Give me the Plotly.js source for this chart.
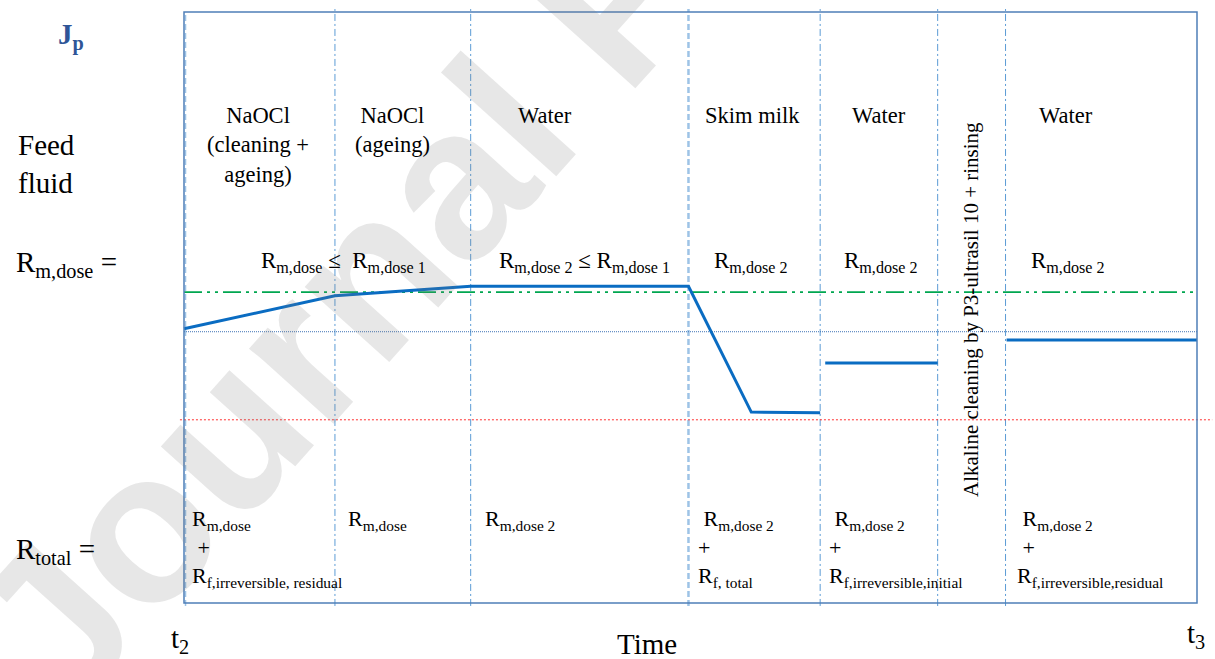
<!DOCTYPE html>
<html>
<head>
<meta charset="utf-8">
<script src="https://cdn.plot.ly/plotly-3.0.1.min.js"></script>
<style>html,body{margin:0;padding:0;background:#fff;}#chart{width:1215px;height:659px;}</style>
</head>
<body>
<div id="chart"></div>
<script>
// ---- data (time: t2 = 0 ... t3 = 100 ; permeate flux in arbitrary units 0..100) ----
const phaseBounds = [14.9, 28.3, 49.8, 62.8, 74.4, 81.1];
const fluxTime1 = [0, 14.9, 28.3, 49.8, 56.0, 62.8];
const fluxVal1  = [46.4, 52.0, 53.6, 53.6, 32.3, 32.2];
const fluxTime2 = [63.3, 74.4];
const fluxVal2  = [40.6, 40.6];
const fluxTime3 = [81.2, 100];
const fluxVal3  = [44.5, 44.5];
const refGreen = 52.6;   // dash-dot-dot reference
const refBlue  = 45.9;   // dotted reference
const refRed   = 31.0;   // red dotted reference
const feedFluids = ['NaOCl<br>(cleaning +<br>ageing)', 'NaOCl<br>(ageing)', 'Water', 'Skim milk', 'Water', 'Water'];
const rmDose = ['R<sub>m,dose</sub> \u2264  R<sub>m,dose 1</sub>', 'R<sub>m,dose 2</sub> \u2264 R<sub>m,dose 1</sub>', 'R<sub>m,dose 2</sub>', 'R<sub>m,dose 2</sub>', 'R<sub>m,dose 2</sub>'];
const rTotal = [
  'R<sub>m,dose</sub><br>\u00a0+<br>R<sub>f,irreversible, residual</sub>',
  'R<sub>m,dose</sub>',
  'R<sub>m,dose 2</sub>',
  '\u00a0R<sub>m,dose 2</sub><br>+<br>R<sub>f, total</sub>',
  '\u00a0R<sub>m,dose 2</sub><br>+<br>R<sub>f,irreversible,initial</sub>',
  '\u00a0R<sub>m,dose 2</sub><br>\u00a0+<br>R<sub>f,irreversible,residual</sub>'
];
const alkalineLabel = 'Alkaline cleaning by P3-ultrasil 10 + rinsing';

// ---- layout geometry ----
const W = 1215, H = 659;
const X0 = 184, X1 = 1197, Y0 = 603, Y1 = 12;
const sx = (X1 - X0) / 100, sy = (Y0 - Y1) / 100;
const px = p => p / W;
const py = p => 1 - p / H;
const serif = 'Liberation Serif, Times New Roman, serif';

const traces = [
  {x: [0, 100], y: [refBlue, refBlue], mode: 'lines', line: {color: '#3F74B5', width: 1, dash: '1px,1px'}, hoverinfo: 'skip'},
  {x: [-0.4, 101.5], y: [refRed, refRed], mode: 'lines', line: {color: '#FF3030', width: 1, dash: '2px,2px'}, hoverinfo: 'skip'},
  {x: [0, 100], y: [refGreen, refGreen], mode: 'lines', line: {color: '#00A650', width: 1.6, dash: '18px,5px,3px,5px,3px,5px'}, hoverinfo: 'skip'},
  {x: fluxTime1.concat([null], fluxTime2, [null], fluxTime3),
   y: fluxVal1.concat([null], fluxVal2, [null], fluxVal3),
   mode: 'lines', connectgaps: false, line: {color: '#0A6CC2', width: 3}, hoverinfo: 'skip'}
];

const shapes = [];
phaseBounds.forEach((b, i) => {
  const special = i === 2;
  shapes.push({type: 'line', xref: 'x', yref: 'y', x0: b, x1: b, y0: -0.5, y1: 100.5,
    layer: 'below',
    line: special ? {color: '#9DC3E6', width: 2.5, dash: '6px,3px'} : {color: '#5B9BD5', width: 1, dash: '7px,3px,2px,3px'}});
});
shapes.push({type: 'line', xref: 'x', yref: 'y', x0: 0.15, x1: 0.15, y0: -0.5, y1: 100, layer: 'below',
  line: {color: '#9DC3E6', width: 1.5, dash: '6px,3px'}});
shapes.push({type: 'rect', xref: 'x', yref: 'y', x0: 0, x1: 100, y0: 0, y1: 100,
  line: {color: '#4F7FB8', width: 1.5}, fillcolor: 'rgba(0,0,0,0)'});

const ann = [];
// watermark
ann.push({text: '<b>Journal Pre-proof</b>', xref: 'paper', yref: 'paper', x: px(614), y: py(0),
  xanchor: 'center', yanchor: 'middle',
  showarrow: false, textangle: -48, font: {family: 'Liberation Sans, Arial, sans-serif', size: 214, color: 'rgba(120,120,120,0.18)'}});

const A = (text, x, y, opt) => Object.assign({text, xref: 'paper', yref: 'paper', x: px(x), y: py(y), showarrow: false,
  font: {family: serif, size: 22, color: '#000'}}, opt || {});

ann.push(A('<b>J<sub>p</sub></b>', 56, 36, {xanchor: 'left', yanchor: 'middle', font: {family: serif, size: 29, color: '#2F5597'}}));
ann.push(A('Feed<br>fluid', 16, 164, {xanchor: 'left', yanchor: 'middle', align: 'left', font: {family: serif, size: 29, color: '#000'}}));
ann.push(A('R<sub>m,dose</sub> =', 14, 264, {xanchor: 'left', yanchor: 'middle', font: {family: serif, size: 29, color: '#000'}}));
ann.push(A('R<sub>total</sub> =', 14, 551, {xanchor: 'left', yanchor: 'middle', font: {family: serif, size: 29, color: '#000'}}));
ann.push(A('t<sub>2</sub>', 180, 640, {xanchor: 'center', yanchor: 'middle', font: {family: serif, size: 29, color: '#000'}}));
ann.push(A('t<sub>3</sub>', 1196, 635, {xanchor: 'center', yanchor: 'middle', font: {family: serif, size: 29, color: '#000'}}));
ann.push(A('Time', 647, 644, {xanchor: 'center', yanchor: 'middle', font: {family: serif, size: 29, color: '#000'}}));

const fluidX = [258, 392, 545, 752, 879, 1066];
feedFluids.forEach((t, i) => ann.push(A(t, fluidX[i], 101, {xanchor: 'center', yanchor: 'top', align: 'center', font: {family: serif, size: 22.5, color: '#000'}})));

const rmX = [343, 584, 750, 880, 1067];
rmDose.forEach((t, i) => ann.push(A(t, rmX[i], 262, {xanchor: 'center', yanchor: 'middle', font: {family: serif, size: 23, color: '#000'}})));

const rtX = [190, 346, 483, 696, 827, 1015];
rTotal.forEach((t, i) => ann.push(A(t, rtX[i], 504, {xanchor: 'left', yanchor: 'top', align: 'left', font: {family: serif, size: 22, color: '#000'}})));

ann.push(A(alkalineLabel, 971, 310, {xanchor: 'center', yanchor: 'middle', textangle: -90, font: {family: serif, size: 21, color: '#000'}}));

const layout = {
  width: W, height: H,
  margin: {l: 0, r: 0, t: 0, b: 0},
  paper_bgcolor: '#fff', plot_bgcolor: 'rgba(0,0,0,0)',
  showlegend: false,
  xaxis: {range: [-X0 / sx, (W - X0) / sx], visible: false, fixedrange: true},
  yaxis: {range: [(Y0 - H) / sy, Y0 / sy], visible: false, fixedrange: true},
  shapes, annotations: ann
};
Plotly.newPlot('chart', traces, layout, {displayModeBar: false, staticPlot: true});
</script>
</body>
</html>
